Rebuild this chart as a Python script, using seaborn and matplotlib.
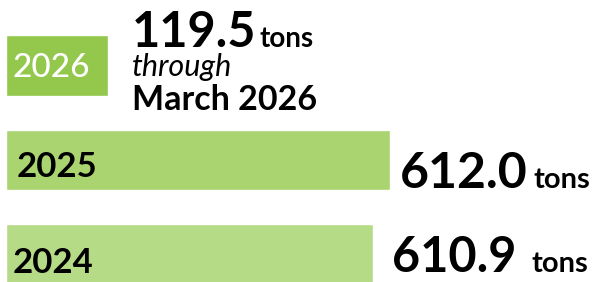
import matplotlib
matplotlib.use("Agg")
import matplotlib.pyplot as plt
import seaborn as sns
import pandas as pd

# ---- data ----
years = ["2026", "2025", "2024"]
tons = [119.5, 612.0, 610.9]
# drawn bar lengths as they appear in the infographic (not to scale)
bar_lengths = [102, 384, 367]
unit = "tons"
note_2026 = ["through", "March 2026"]
bar_colors = ["#93c84d", "#a9d470", "#b6db86"]

W, H = 597, 282
sns.set_theme(style="white")
plt.rcParams["font.family"] = ["Lato", "DejaVu Sans"]

fig = plt.figure(figsize=(W / 100, H / 100), dpi=100)
ax = fig.add_axes([0, 0, 1, 1])

df = pd.DataFrame({"year": years, "length": bar_lengths})
sns.barplot(data=df, y="year", x="length", hue="year", order=years,
            hue_order=years, palette=dict(zip(years, bar_colors)),
            orient="h", width=0.645, legend=False, ax=ax, saturation=1)

ax.set_xlim(-6, W - 6)
ax.set_ylim(2.291, -0.693)
ax.axis("off")


def ptext(x, y, s, **kw):
    fig.text(x / W, 1 - y / H, s, va="baseline", ha="left", **kw)


# 2026 block
ptext(13, 77, years[0], color="white", fontsize=24, fontweight="medium")
ptext(132, 47, f"{tons[0]:.1f}", color="black", fontsize=35, fontweight="bold")
ptext(260, 47, unit, color="black", fontsize=20, fontweight="bold")
ptext(132, 76, note_2026[0], color="black", fontsize=22, style="italic")
ptext(132, 110, note_2026[1], color="black", fontsize=24.5, fontweight="bold")

# 2025
ptext(17, 177, years[1], color="black", fontsize=25, fontweight="bold")
ptext(400, 188, f"{tons[1]:.1f}", color="black", fontsize=36, fontweight="bold")
ptext(533, 188, unit, color="black", fontsize=21, fontweight="bold")

# 2024
ptext(13, 273, years[2], color="black", fontsize=25, fontweight="bold")
ptext(392, 272, f"{tons[2]:.1f}", color="black", fontsize=35, fontweight="bold")
ptext(532, 272, unit, color="black", fontsize=21, fontweight="bold")

fig.savefig("out.png", dpi=100, facecolor="white")
